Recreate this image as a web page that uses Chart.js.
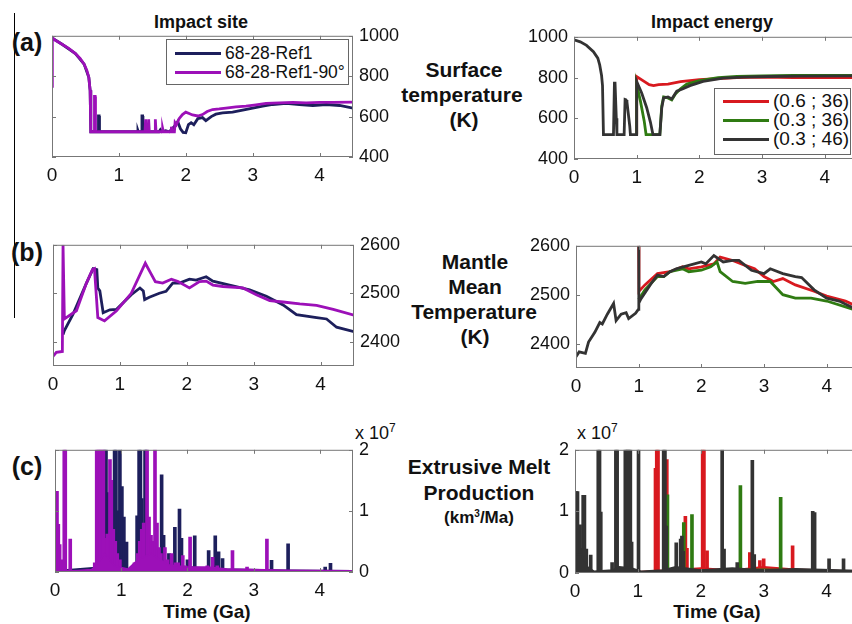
<!DOCTYPE html>
<html lang="en">
<head>
<meta charset="UTF-8">
<title>Impact site / Impact energy</title>
<script src="https://cdn.jsdelivr.net/npm/chart.js"></script>
<style>
  body { margin:0; width:852px; height:624px; overflow:hidden; background:#fff; position:relative;
         font-family:"Liberation Sans", Arial, sans-serif; color:#111; }
  canvas { position:absolute; }
  .lbl { position:absolute; font-weight:bold; text-align:center; transform:translate(-50%,-50%); white-space:nowrap; }
  .big { font-size:21px; }
  .mult { position:absolute; font-size:18px; white-space:nowrap; }
  .mult sup { font-size:12px; }
  .legend { position:absolute; background:#fff; border:1px solid #666; }
  .legend .row { position:absolute; white-space:nowrap; }
  .legend .sw { position:absolute; height:3px; }
  .vline { position:absolute; left:14px; top:13px; width:1px; height:305px; background:#000; }
</style>
</head>
<body>
<div class="vline"></div>

<div class="lbl" style="left:201px;top:22px;font-size:18px">Impact site</div>
<div class="lbl" style="left:712px;top:22px;font-size:18px">Impact energy</div>
<div class="lbl" style="left:27px;top:42px;font-size:25px">(a)</div>
<div class="lbl" style="left:27px;top:252px;font-size:25px">(b)</div>
<div class="lbl" style="left:27px;top:466px;font-size:25px">(c)</div>

<div class="lbl big" style="left:464px;top:70px">Surface</div>
<div class="lbl big" style="left:462px;top:95px">temperature</div>
<div class="lbl big" style="left:464px;top:120px">(K)</div>

<div class="lbl big" style="left:475px;top:262px">Mantle</div>
<div class="lbl big" style="left:475px;top:287px">Mean</div>
<div class="lbl big" style="left:474px;top:312px">Temperature</div>
<div class="lbl big" style="left:475px;top:337px">(K)</div>

<div class="lbl big" style="left:479px;top:467px">Extrusive Melt</div>
<div class="lbl big" style="left:479px;top:493px">Production</div>
<div class="lbl" style="left:479px;top:518px;font-size:17px">(km<sup style="font-size:10px">3</sup>/Ma)</div>

<div class="lbl" style="left:207px;top:612px;font-size:19px">Time (Ga)</div>
<div class="lbl" style="left:717px;top:612px;font-size:19px">Time (Ga)</div>

<div class="mult" style="left:355px;top:421px">x 10<sup>7</sup></div>
<div class="mult" style="left:577px;top:421px">x 10<sup>7</sup></div>

<canvas id="aSite"></canvas>
<canvas id="aEnergy"></canvas>
<canvas id="bSite"></canvas>
<canvas id="bEnergy"></canvas>
<canvas id="cSite"></canvas>
<canvas id="cEnergy"></canvas>

<script>
// ---- axis ticks
const T_TICKS = [0, 1, 2, 3, 4];
const SURF_TICKS = [400, 600, 800, 1000];
const MANTLE_TICKS = [2400, 2500, 2600];
const MELT_TICKS = [0, 1, 2];

// ---- series names / colours
const SITE_NAMES = ['68-28-Ref1', '68-28-Ref1-90°'];
const SITE_COLORS = ['#1d1f5c', '#9c10b8'];
const ENERGY_NAMES = ['(0.6 ; 36)', '(0.3 ; 36)', '(0.3 ; 46)'];
const ENERGY_COLORS = ['#d8191f', '#2f7b12', '#333333'];

// ---- (a) surface temperature, [time Ga, K]
const aRef = [[0,990],[0.15,958],[0.35,912],[0.48,860],[0.55,795],[0.57,730],[0.58,525],[0.69,525],[0.695,603],[0.705,603],[0.71,525],
  [1.28,525],[1.285,530],[1.29,525],[1.34,525],[1.345,603],[1.355,603],[1.36,525],[1.60,525],[1.62,535],[1.64,525],[1.70,530],[1.75,525],
  [1.80,540],[1.85,560],[1.88,575],[1.92,540],[1.96,522],[2.00,520],[2.04,560],[2.08,570],[2.12,560],[2.18,590],[2.25,595],[2.30,580],
  [2.38,600],[2.45,612],[2.55,618],[2.70,622],[2.85,632],[3.00,642],[3.15,652],[3.30,660],[3.50,665],[3.70,660],[3.90,655],[4.10,660],[4.30,655],[4.50,642]];
const aRef90 = [[0,750],[0.005,990],[0.05,978],[0.15,958],[0.25,938],[0.35,912],[0.42,888],[0.48,860],[0.52,830],[0.55,795],[0.57,730],[0.58,525],
  [0.63,525],[0.635,700],[0.645,700],[0.65,525],[1.39,525],[1.40,587],[1.41,525],[1.44,525],[1.445,587],[1.455,525],[1.54,525],[1.545,587],[1.555,525],
  [1.65,525],[1.655,540],[1.665,525],[1.78,525],[1.785,550],[1.795,525],[1.83,525],[1.84,570],[1.86,560],[1.90,590],[1.95,610],[2.00,622],[2.05,615],
  [2.10,608],[2.18,603],[2.25,610],[2.32,625],[2.40,635],[2.50,638],[2.60,642],[2.75,648],[2.90,652],[3.05,658],[3.20,665],[3.40,668],[3.60,670],
  [3.80,668],[4.00,670],[4.20,670],[4.50,672]];
const aE36a = [[1.0,520],[1.0,805],[1.1,785],[1.2,765],[1.27,760],[1.35,765],[1.5,768],[1.7,780],[2.0,790],[2.3,795],[2.6,800],[3.0,802],[3.5,800],[4.5,800]];
const aE36b = [[1.0,520],[1.0,765],[1.06,684],[1.12,587],[1.15,520],[1.25,520],[1.37,520],[1.40,660],[1.43,705],[1.50,700],[1.56,690],[1.62,720],
  [1.70,745],[1.80,768],[2.0,785],[2.3,800],[2.6,806],[3.0,808],[3.5,810],[4.5,810]];
const aE46 = [[0,985],[0.1,975],[0.2,958],[0.31,927],[0.38,895],[0.41,862],[0.44,810],[0.455,760],[0.47,520],[0.63,520],[0.645,773],[0.655,773],
  [0.675,600],[0.685,520],[0.80,520],[0.815,692],[0.83,690],[0.845,680],[0.86,640],[0.875,600],[0.89,560],[0.9,520],[1.0,520],[1.0,781],[1.08,724],
  [1.16,652],[1.22,580],[1.26,520],[1.37,520],[1.40,650],[1.43,700],[1.50,705],[1.56,695],[1.64,733],[1.74,745],[1.85,760],[2.06,781],[2.38,797],
  [2.70,802],[3.10,805],[3.6,807],[4.5,808]];

// ---- (b) mantle mean temperature, [time Ga, K]
const bRef = [[0.15,2415],[0.17,2423],[0.3,2457],[0.5,2521],[0.6,2551],[0.655,2549],[0.67,2511],[0.7,2505],[0.75,2460],[0.85,2466],[0.95,2467],
  [1.17,2497],[1.3,2511],[1.35,2505],[1.37,2487],[1.44,2492],[1.59,2500],[1.69,2504],[1.79,2521],[1.89,2521],[2.04,2529],[2.14,2527],[2.29,2534],
  [2.39,2525],[2.64,2517],[2.94,2507],[3.19,2494],[3.44,2476],[3.64,2456],[3.94,2450],[4.09,2447],[4.24,2430],[4.5,2421]];
const bRef90 = [[0,2370],[0.05,2378],[0.14,2380],[0.15,2600],[0.16,2600],[0.17,2447],[0.35,2464],[0.5,2521],[0.59,2549],[0.62,2551],[0.67,2450],
  [0.77,2443],[0.95,2464],[1.17,2500],[1.38,2562],[1.45,2544],[1.53,2524],[1.64,2521],[1.77,2529],[1.87,2524],[2.04,2511],[2.19,2524],[2.29,2525],
  [2.39,2517],[2.54,2514],[2.84,2511],[3.04,2497],[3.24,2485],[3.44,2482],[3.69,2478],[3.94,2475],[4.19,2467],[4.5,2455]];
const bE36a = [[1.0,2600],[1.005,2507],[1.1,2520],[1.3,2543],[1.5,2547],[1.7,2557],[1.8,2553],[2.0,2557],[2.2,2563],[2.3,2577],[2.5,2570],[2.7,2560],
  [2.85,2553],[3.0,2537],[3.15,2527],[3.3,2533],[3.5,2520],[3.8,2507],[4.0,2497],[4.3,2487],[4.5,2475]];
const bE36b = [[1.0,2490],[1.1,2510],[1.3,2537],[1.4,2537],[1.5,2547],[1.7,2553],[1.8,2547],[2.0,2550],[2.15,2557],[2.25,2567],[2.3,2547],[2.5,2527],
  [2.7,2523],[2.9,2527],[3.1,2527],[3.3,2500],[3.5,2493],[3.75,2493],[4.0,2487],[4.5,2467]];
const bE46 = [[0,2373],[0.05,2383],[0.15,2380],[0.2,2403],[0.3,2423],[0.38,2443],[0.42,2440],[0.5,2460],[0.6,2482],[0.64,2447],[0.72,2460],[0.8,2463],
  [0.84,2451],[0.95,2462],[0.995,2470],[1.0,2600],[1.005,2483],[1.03,2490],[1.2,2523],[1.3,2540],[1.4,2537],[1.5,2547],[1.6,2553],[1.8,2560],[2.0,2567],
  [2.07,2563],[2.2,2580],[2.35,2567],[2.5,2570],[2.6,2570],[2.8,2550],[3.0,2543],[3.1,2553],[3.3,2543],[3.5,2537],[3.6,2535],[3.8,2510],[4.0,2493],
  [4.2,2487],[4.5,2468]];

// ---- (c) extrusive melt production (x 1e7 km3/Ma): spikes and low background
const cRefSpk = [[0.75,2],[0.77,2],[0.8,1.3],[0.82,0.6],[0.9,2],[0.92,2],[0.95,1.0],[0.98,2],[1.01,1.4],[1.04,0.9],[1.08,0.49],[1.24,0.92],[1.27,2],
  [1.29,2],[1.31,1.2],[1.36,2],[1.38,2],[1.45,0.5],[1.61,1.59],[1.64,0.6],[1.72,0.3],[1.81,0.73],[1.88,1.03],[1.91,0.55],[2.0,0.2],[2.11,0.59],
  [2.32,0.35],[2.42,0.59],[2.47,0.33],[2.53,0.22],[3.27,0.19],[3.52,0.46],[4.08,0.08],[4.16,0.14]];
const cRefBase = [[0,0.02],[0.9,0.1],[1.0,0.25],[1.08,0.05],[1.5,0.1],[1.8,0.1],[2.5,0.05],[3.5,0.03],[4.5,0.02]];
const cRef90Spk = [[0.01,1.32],[0.03,1.32],[0.05,0.78],[0.07,0.45],[0.1,0.2],[0.14,2],[0.155,2],[0.23,0.54],[0.6,0.15],[0.63,2],[0.65,2],[0.67,2],
  [0.69,2],[0.71,2],[0.73,2],[0.76,0.55],[0.79,0.62],[0.83,1.84],[0.85,1.5],[0.88,0.7],[0.91,0.5],[0.94,0.3],[0.98,0.2],[1.2,0.15],[1.25,0.3],
  [1.28,0.5],[1.31,0.7],[1.34,0.8],[1.39,2],[1.42,0.9],[1.45,0.6],[1.48,0.5],[1.51,2],[1.54,0.8],[1.57,0.4],[1.6,0.3],[1.66,0.4],[1.7,0.2],
  [1.76,0.3],[1.82,0.15],[1.86,0.15],[1.93,0.27],[1.97,0.1],[2.04,0.57],[2.3,0.1],[2.38,0.24],[2.45,0.1],[2.68,0.35],[2.9,0.08],[3.2,0.54]];
const cRef90Base = [[0,0.03],[0.3,0.02],[0.55,0.04],[0.62,0.1],[0.75,0.3],[0.9,0.1],[1.1,0.05],[1.25,0.2],[1.45,0.3],[1.7,0.12],[2.0,0.08],
  [2.3,0.08],[2.6,0.05],[3.0,0.04],[3.5,0.03],[4.5,0.02]];
const cE36aSpk = [[1.28,1.7],[1.3,2],[1.32,2],[1.46,1.84],[1.73,0.6],[1.755,0.92],[1.78,0.4],[2.03,2],[2.05,2],[2.1,0.36],[2.78,0.33],[2.94,0.2],
  [3.0,0.23],[3.46,0.44]];
const cE36aBase = [[1.0,0.02],[1.5,0.05],[2.0,0.08],[2.5,0.05],[3.0,0.1],[3.5,0.06],[4.5,0.03]];
const cE36bSpk = [[1.47,1.27],[1.73,0.82],[1.86,0.95],[2.63,1.42],[3.27,1.23]];
const cE36bBase = [[1.4,0.03],[2.0,0.05],[3.0,0.06],[4.5,0.03]];
const cE46Spk = [[0.02,1.32],[0.04,1.32],[0.06,0.7],[0.08,0.78],[0.11,0.4],[0.13,1.26],[0.15,1.26],[0.18,0.39],[0.25,0.29],[0.37,2],[0.39,2],
  [0.41,0.99],[0.59,0.17],[0.65,2],[0.67,2],[0.8,2],[0.82,2],[0.84,2],[0.86,2],[0.88,2],[0.9,0.5],[1.01,2],[1.41,2],[1.43,2],[1.45,0.76],
  [1.61,0.49],[1.68,0.55],[1.7,0.6],[1.72,0.35],[2.34,2],[2.37,0.39],[2.58,0.17],[2.82,1.83],[2.85,0.3],[3.78,1.0],[3.81,0.98],[4.04,0.23],[4.27,0.23]];
const cE46Base = [[0,0.3],[0.1,0.3],[0.2,0.1],[0.3,0.03],[0.6,0.05],[0.7,0.1],[0.9,0.08],[1.05,0.03],[1.4,0.05],[1.6,0.1],[2.0,0.05],[2.5,0.08],
  [3.0,0.05],[3.5,0.07],[4.5,0.04]];

Chart.defaults.font.family = '"Liberation Sans", Arial, sans-serif';
Chart.defaults.color = '#111';

const pts = arr => arr.map(p => ({x: p[0], y: p[1]}));

function line(arr, color, order) {
  return {type:'line', data: pts(arr), borderColor: color, borderWidth: 2.8, pointRadius: 0, tension: 0, order: order};
}
function spikes(arr, color, order) {
  return {type:'bar', data: pts(arr), backgroundColor: color, barThickness: 3, grouped: false, order: order};
}
function base(arr, color, order) {
  return {type:'line', data: pts(arr), borderColor: color, backgroundColor: color, borderWidth: 1.5, pointRadius: 0, fill: 'origin', order: order};
}

// matlab style box with inward ticks
const boxPlugin = {
  id: 'box',
  afterDatasetsDraw(chart) {
    const {ctx, chartArea: a, scales: {x, y}} = chart;
    ctx.save();
    ctx.strokeStyle = '#777';
    ctx.lineWidth = 1;
    ctx.strokeRect(a.left + 0.5, a.top + 0.5, a.right - a.left - 1, a.bottom - a.top - 1);
    ctx.beginPath();
    x.ticks.forEach(t => {
      const px = Math.round(x.getPixelForValue(t.value)) + 0.5;
      ctx.moveTo(px, a.bottom); ctx.lineTo(px, a.bottom - 4);
      ctx.moveTo(px, a.top); ctx.lineTo(px, a.top + 4);
    });
    y.ticks.forEach(t => {
      const py = Math.round(y.getPixelForValue(t.value)) + 0.5;
      ctx.moveTo(a.left, py); ctx.lineTo(a.left + 4, py);
      ctx.moveTo(a.right, py); ctx.lineTo(a.right - 4, py);
    });
    ctx.stroke();
    ctx.restore();
  }
};

// box = plot area [left, top, right, bottom] in page pixels
function panel(id, box, yRight, yMin, yMax, yTicks, datasets) {
  const pad = 14, yW = 52, xH = 30;
  const cv = document.getElementById(id);
  cv.width = box[2] - box[0] + 2 * pad + yW;
  cv.height = box[3] - box[1] + pad + xH + 4;
  cv.style.left = (box[0] - pad - (yRight ? 0 : yW)) + 'px';
  cv.style.top = (box[1] - pad) + 'px';
  new Chart(cv, {
    type: 'line',
    data: {datasets: datasets},
    options: {
      responsive: false,
      animation: false,
      layout: {padding: {left: pad, right: pad, top: pad, bottom: 4}},
      plugins: {legend: {display: false}, tooltip: {enabled: false}},
      scales: {
        x: {
          type: 'linear', min: 0, max: 4.5, offset: false,
          grid: {display: false, drawTicks: false}, border: {display: false},
          afterBuildTicks: s => { s.ticks = T_TICKS.map(v => ({value: v})); },
          afterFit: s => { s.height = xH; },
          ticks: {padding: 7, maxRotation: 0, autoSkip: false, font: {size: 19}, callback: v => String(v)}
        },
        y: {
          type: 'linear', position: yRight ? 'right' : 'left', min: yMin, max: yMax,
          grid: {display: false, drawTicks: false}, border: {display: false},
          afterBuildTicks: s => { s.ticks = yTicks.map(v => ({value: v})); },
          afterFit: s => { s.width = yW; },
          ticks: {padding: 6, autoSkip: false, font: {size: 18}, callback: v => String(v)}
        }
      }
    },
    plugins: [boxPlugin]
  });
}

panel('aSite', [52, 33, 353, 157], true, 400, 1000, SURF_TICKS, [
  line(aRef, SITE_COLORS[0], 1), line(aRef90, SITE_COLORS[1], 0)]);
panel('aEnergy', [574, 34, 856, 159], false, 400, 1000, SURF_TICKS, [
  line(aE36a, ENERGY_COLORS[0], 2), line(aE36b, ENERGY_COLORS[1], 1), line(aE46, ENERGY_COLORS[2], 0)]);
panel('bSite', [53, 242, 354, 366], true, 2350, 2600, MANTLE_TICKS, [
  line(bRef, SITE_COLORS[0], 1), line(bRef90, SITE_COLORS[1], 0)]);
panel('bEnergy', [576, 243, 858, 368], false, 2350, 2600, MANTLE_TICKS, [
  line(bE36a, ENERGY_COLORS[0], 2), line(bE36b, ENERGY_COLORS[1], 1), line(bE46, ENERGY_COLORS[2], 0)]);
panel('cSite', [55, 447, 353, 572], true, 0, 2, MELT_TICKS, [
  spikes(cRefSpk, SITE_COLORS[0], 3), base(cRefBase, SITE_COLORS[0], 2),
  spikes(cRef90Spk, SITE_COLORS[1], 1), base(cRef90Base, SITE_COLORS[1], 0)]);
panel('cEnergy', [575, 447, 858, 573], false, 0, 2, MELT_TICKS, [
  spikes(cE36aSpk, ENERGY_COLORS[0], 5), base(cE36aBase, ENERGY_COLORS[0], 4),
  spikes(cE36bSpk, ENERGY_COLORS[1], 3), base(cE36bBase, ENERGY_COLORS[1], 2),
  spikes(cE46Spk, ENERGY_COLORS[2], 1), base(cE46Base, ENERGY_COLORS[2], 0)]);

// legends
function legend(left, top, w, h, names, colors, fontSize, lineX, lineW, rowY) {
  const box = document.createElement('div');
  box.className = 'legend';
  Object.assign(box.style, {left: left + 'px', top: top + 'px', width: w + 'px', height: h + 'px'});
  names.forEach((n, i) => {
    const sw = document.createElement('div');
    sw.className = 'sw';
    Object.assign(sw.style, {left: lineX + 'px', top: (rowY[i] - 1.5) + 'px', width: lineW + 'px', background: colors[i]});
    const tx = document.createElement('div');
    tx.className = 'row';
    tx.textContent = n;
    Object.assign(tx.style, {left: (lineX + lineW + 4) + 'px', top: (rowY[i] - fontSize * 0.6) + 'px', fontSize: fontSize + 'px'});
    box.appendChild(sw);
    box.appendChild(tx);
  });
  document.body.appendChild(box);
}
legend(166, 39, 181, 44, SITE_NAMES, SITE_COLORS, 17.5, 8, 46, [13, 32]);
legend(714, 88, 135, 65, ENERGY_NAMES, ENERGY_COLORS, 19, 8, 46, [12, 31, 50]);
</script>
</body>
</html>
